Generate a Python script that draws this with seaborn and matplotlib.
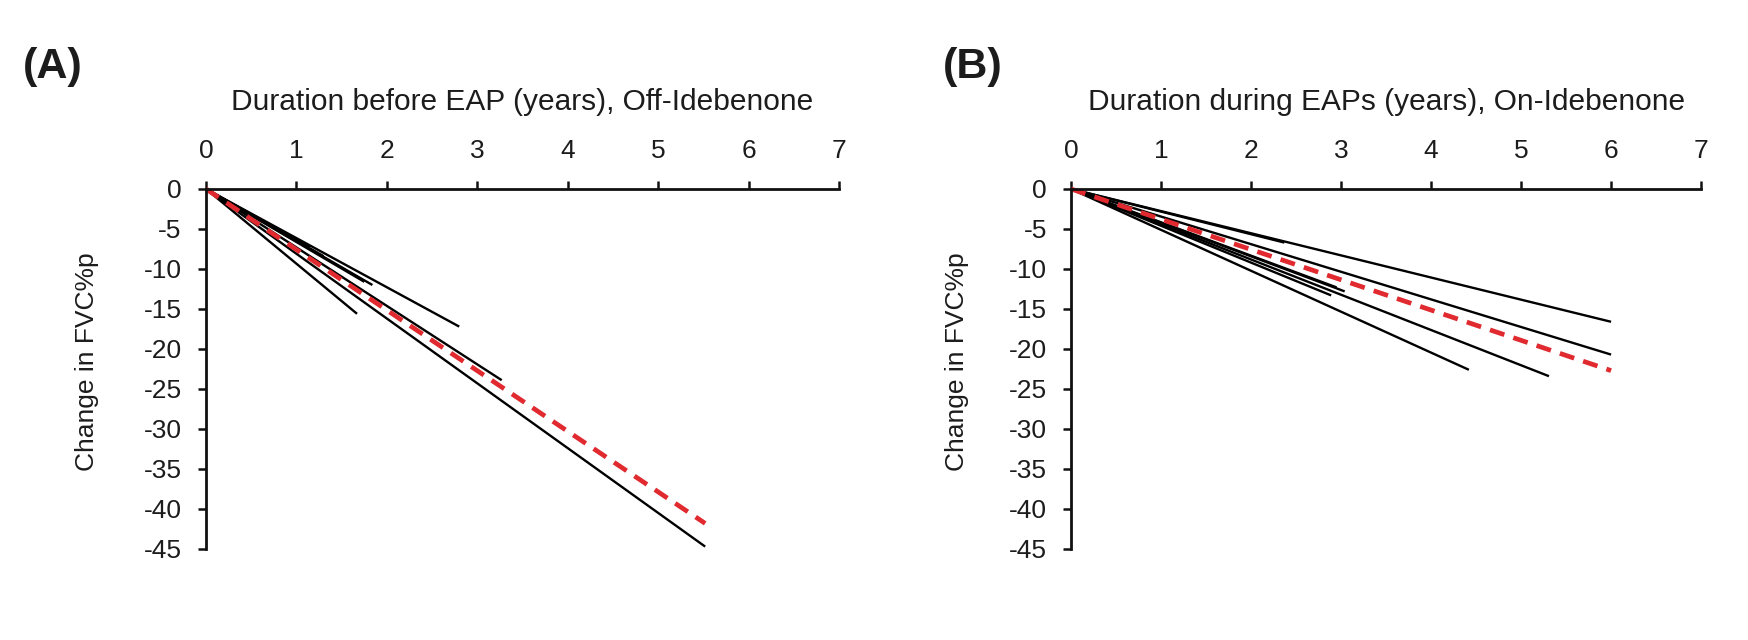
import numpy as np
import pandas as pd
import matplotlib
matplotlib.use("Agg")
import matplotlib.pyplot as plt
import seaborn as sns

sns.set_theme(style="white")
plt.rcParams["font.family"] = ["Liberation Sans", "DejaVu Sans"]
plt.rcParams["axes.unicode_minus"] = False

# Panel A: individual patient slopes before EAP (end point of each line)
a_end_x = [5.52, 3.27, 2.80, 1.67, 1.84, 1.75, 1.00, 1.15, 1.30]
a_end_y = [-44.7, -23.9, -17.2, -15.6, -12.0, -11.6, -6.4, -7.3, -8.4]
a_mean_x = 5.52
a_mean_y = -41.8

# Panel B: individual patient slopes during EAPs
b_end_x = [6.00, 6.00, 5.31, 4.42, 3.04, 2.89, 2.95, 2.37]
b_end_y = [-16.6, -20.7, -23.4, -22.6, -12.8, -13.3, -12.3, -6.7]
b_mean_x = 6.00
b_mean_y = -22.7

x_ticks = list(range(0, 8))
y_ticks = list(range(0, -50, -5))

TXT = "#1c1c1c"
RED = "#e02a2f"


def segments(end_x, end_y):
    rows = []
    for i, (ex, ey) in enumerate(zip(end_x, end_y)):
        rows.append({"id": i, "x": 0.0, "y": 0.0})
        rows.append({"id": i, "x": ex, "y": ey})
    return pd.DataFrame(rows)


def panel(ax, end_x, end_y, mx, my, title, letter, ylab_x, letter_x):
    df = segments(end_x, end_y)
    sns.lineplot(data=df, x="x", y="y", units="id", estimator=None,
                 color="black", lw=1.7, ax=ax, legend=False)
    mean_df = segments([mx], [my])
    sns.lineplot(data=mean_df, x="x", y="y", estimator=None,
                 color=RED, lw=3.4, ax=ax, legend=False)
    ax.lines[-1].set_dashes([3.2, 2.0])

    ax.set_xlim(0, 7)
    ax.set_ylim(-45, 0)
    ax.set_xticks(x_ticks)
    ax.set_yticks(y_ticks)
    ax.xaxis.tick_top()
    ax.xaxis.set_label_position("top")
    for s in ["right", "bottom"]:
        ax.spines[s].set_visible(False)
    for s in ["top", "left"]:
        ax.spines[s].set_linewidth(2.0)
        ax.spines[s].set_color("#111111")
    ax.tick_params(axis="both", which="major", length=5.5, width=1.8,
                   color="#111111", labelsize=19, labelcolor=TXT)
    ax.tick_params(axis="x", top=True, bottom=False, direction="out", pad=13)
    ax.tick_params(axis="y", left=True, direction="out", pad=12)
    ax.set_xlabel(title, fontsize=21.5, color=TXT, labelpad=21)
    ax.set_ylabel("Change in FVC%p", fontsize=19, color=TXT)
    ax.yaxis.set_label_coords(ylab_x, 0.52)
    ax.grid(False)
    ax.text(letter_x, 1.34, letter, transform=ax.transAxes, fontsize=31,
            fontweight="bold", color=TXT, ha="left", va="center")
    for ln in ax.lines:
        ln.set_clip_on(False)
        ln.set_solid_capstyle("butt")


fig = plt.figure(figsize=(17.49, 6.40), dpi=100)
ax_a = fig.add_axes([0.1178, 0.1422, 0.3619, 0.5625])
ax_b = fig.add_axes([0.6124, 0.1422, 0.3602, 0.5625])

panel(ax_a, a_end_x, a_end_y, a_mean_x, a_mean_y,
      "Duration before EAP (years), Off-Idebenone", "(A)", -0.169, -0.29)
panel(ax_b, b_end_x, b_end_y, b_mean_x, b_mean_y,
      "Duration during EAPs (years), On-Idebenone", "(B)", -0.162, -0.203)

fig.savefig("out.png", dpi=100, facecolor="white")
